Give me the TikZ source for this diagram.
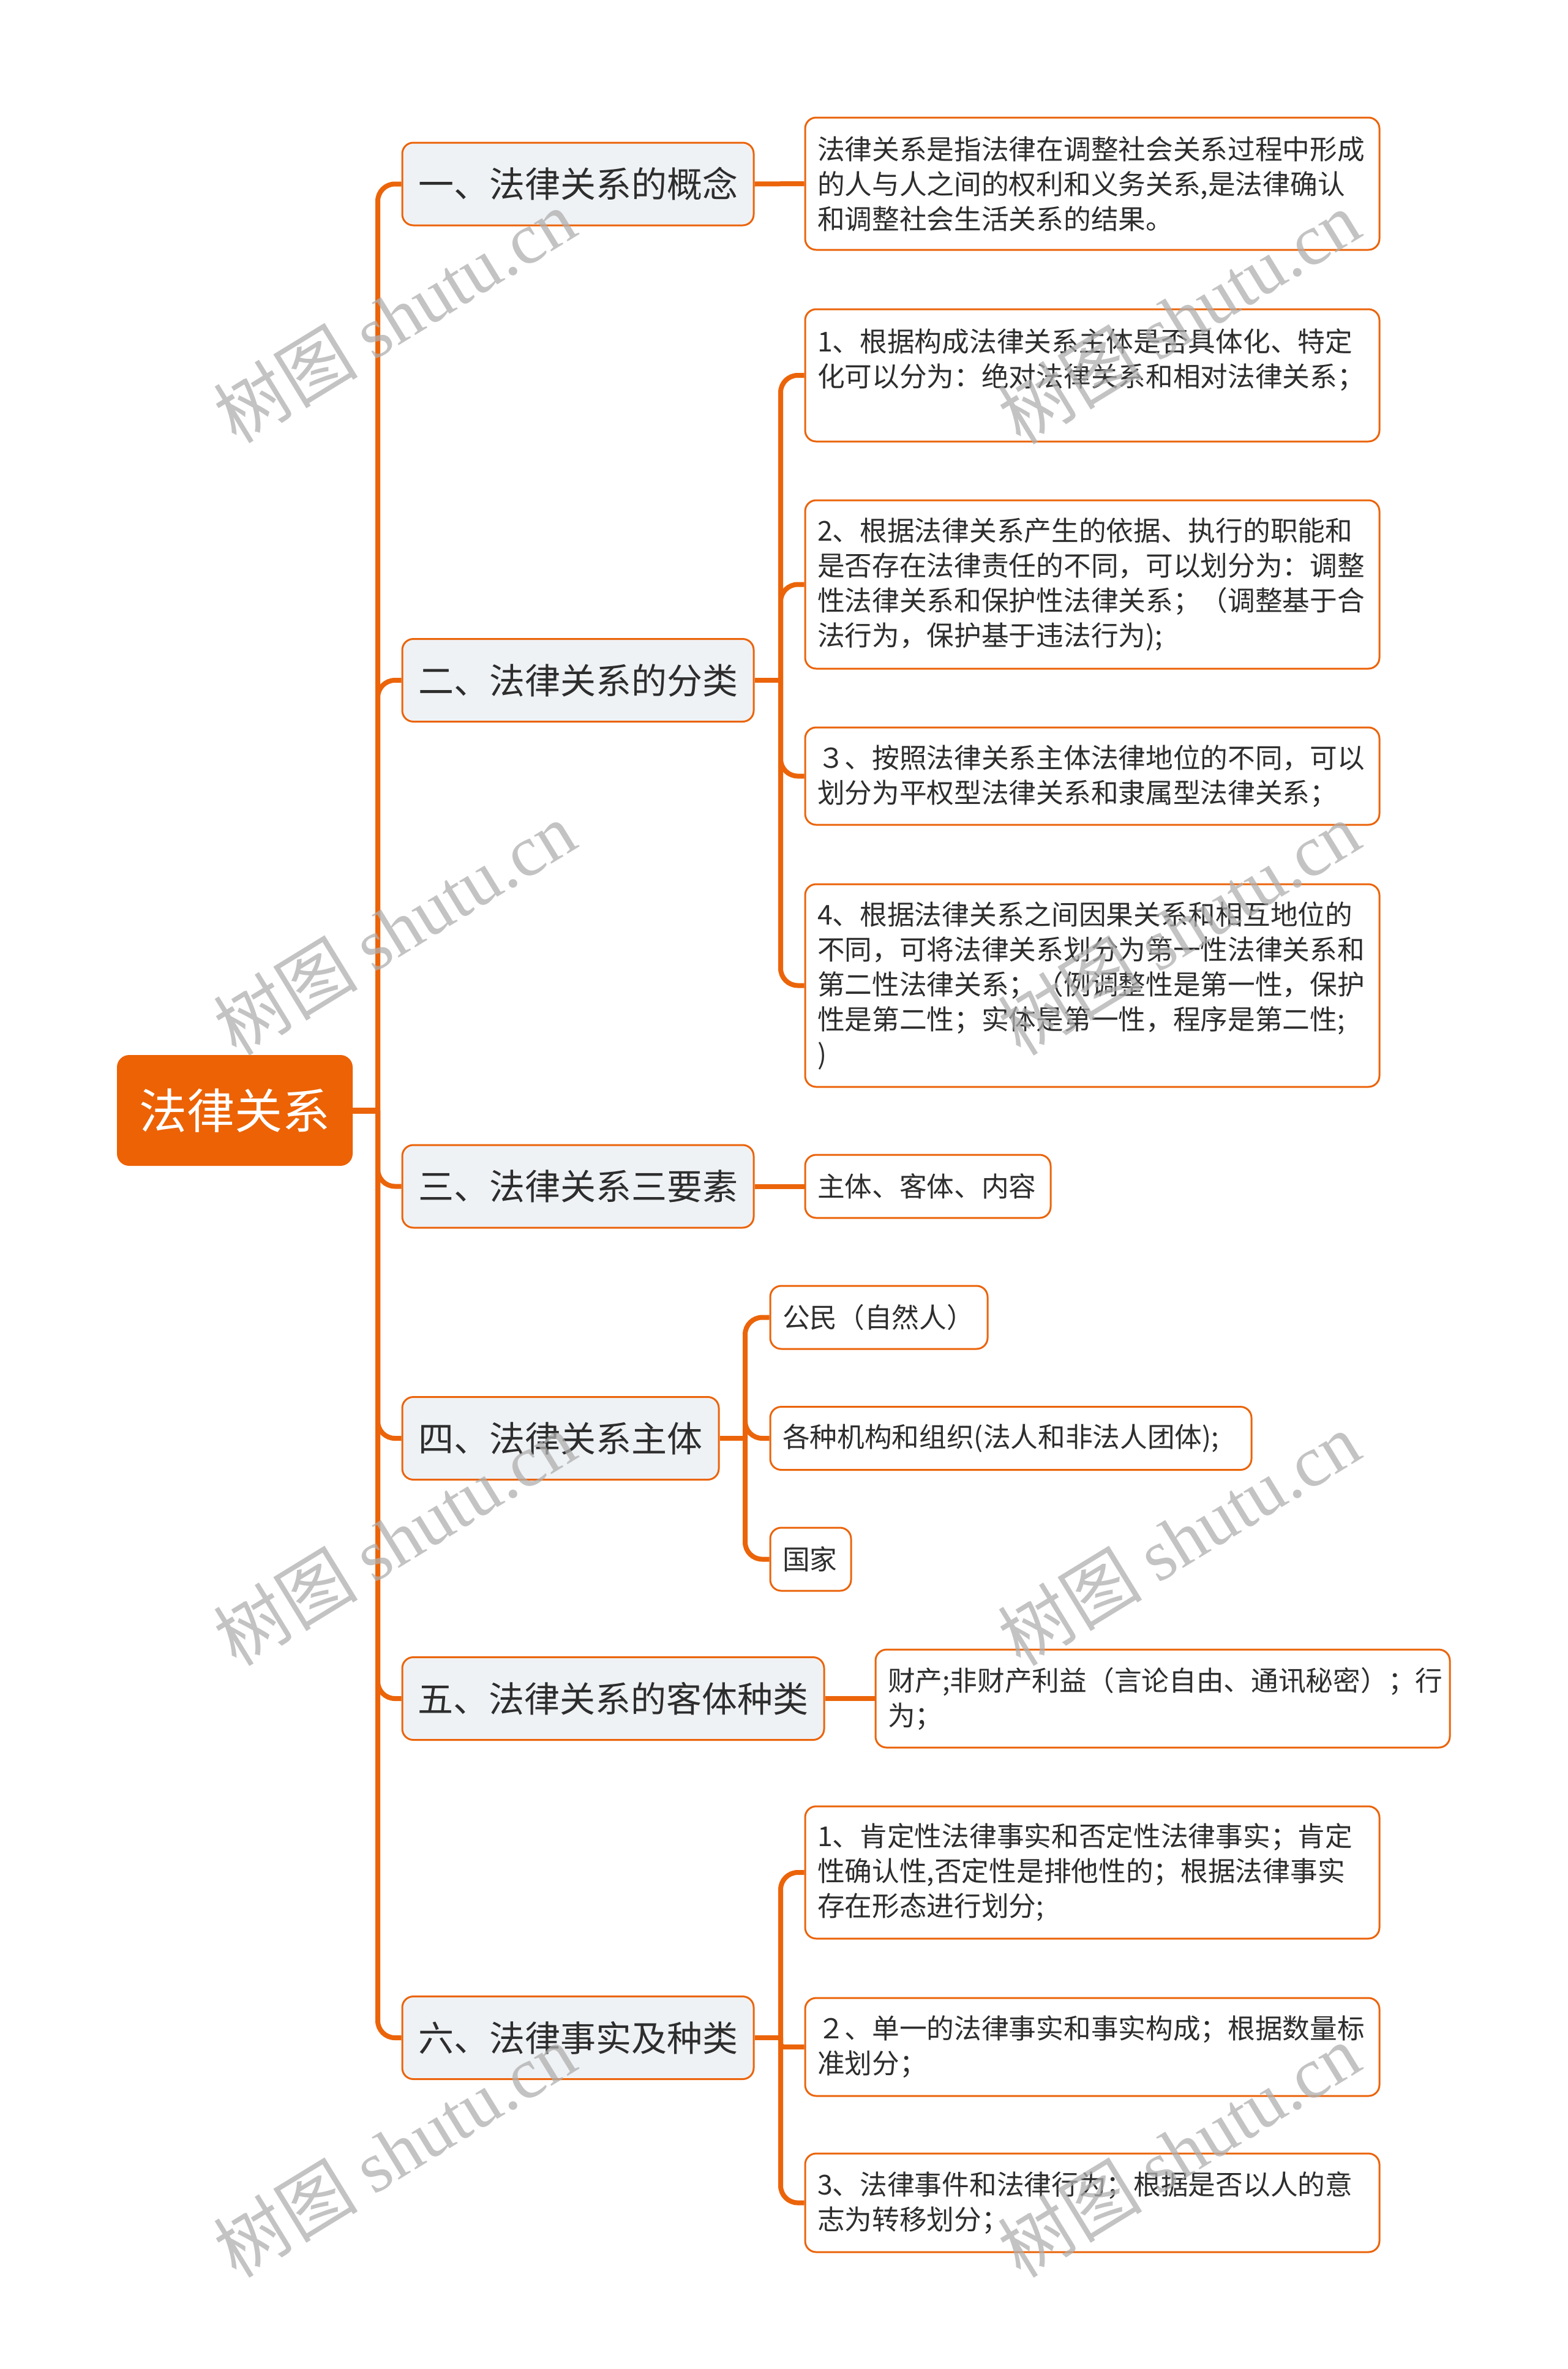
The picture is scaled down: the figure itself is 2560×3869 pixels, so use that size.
\documentclass[tikz,border=0pt]{standalone}
\usepackage{fontspec}
\setmainfont{Noto Sans CJK SC}
\newfontfamily\wmserif{Liberation Serif}
\usetikzlibrary{backgrounds}
\definecolor{orangeC}{RGB}{235,100,10}
\definecolor{rootC}{RGB}{236,98,4}
\definecolor{lonefill}{RGB}{239,242,245}
\definecolor{textC}{RGB}{45,45,45}
\definecolor{wmC}{RGB}{175,175,175}
\tikzset{
  conn/.style={draw=orangeC, line width=8pt, rounded corners=28pt},
  rootbox/.style={rectangle, rounded corners=20pt, fill=rootC, draw=none, text=white,
    font=\fontsize{78}{94}\selectfont, minimum width=385pt, minimum height=181pt, inner sep=0pt},
  lonebox/.style={rectangle, rounded corners=18pt, fill=lonefill, draw=orangeC, line width=3pt,
    text=textC, font=\fontsize{58}{70}\selectfont, minimum height=135pt, inner sep=0pt},
  leafbox/.style={rectangle, rounded corners=18pt, fill=white, draw=orangeC, line width=3pt,
    text=textC, font=\fontsize{44.7}{57}\selectfont, align=left, inner xsep=20pt, inner ysep=0pt},
  wmark/.style={text=wmC, opacity=0.75, rotate=31.5, inner sep=0pt, font=\fontsize{118}{120}\selectfont},
}
\begin{document}
\begin{tikzpicture}[x=1pt,y=-1pt]
\useasboundingbox (0,0) rectangle (2560,3869);
% root
\node[rootbox] (root) at (383.5,1813.5) {法律关系};
% level one
\node[lonebox, minimum width=574pt] (n1) at (944,300.5) {一、法律关系的概念};
\node[lonebox, minimum width=574pt] (n2) at (944,1111) {二、法律关系的分类};
\node[lonebox, minimum width=574pt] (n3) at (944,1937.5) {三、法律关系三要素};
\node[lonebox, minimum width=517pt] (n4) at (915.5,2349) {四、法律关系主体};
\node[lonebox, minimum width=689pt] (n5) at (1001.5,2774) {五、法律关系的客体种类};
\node[lonebox, minimum width=574pt] (n6) at (944,3328) {六、法律事实及种类};
% leaves
\node[leafbox, text width=898pt, minimum height=216pt] (a1) at (1784,300) {法律关系是指法律在调整社会关系过程中形成\\的人与人之间的权利和义务关系,是法律确认\\和调整社会生活关系的结果。};
\node[leafbox, text width=898pt, minimum height=216pt] (b1) at (1784,613) {1、根据构成法律关系主体是否具体化、特定\\化可以分为：绝对法律关系和相对法律关系；\\\mbox{}};
\node[leafbox, text width=898pt, minimum height=275pt] (b2) at (1784,954.5) {2、根据法律关系产生的依据、执行的职能和\\是否存在法律责任的不同，可以划分为：调整\\性法律关系和保护性法律关系；（调整基于合\\法行为，保护基于违法行为);};
\node[leafbox, text width=898pt, minimum height=159pt] (b3) at (1784,1267.5) {３、按照法律关系主体法律地位的不同，可以\\划分为平权型法律关系和隶属型法律关系；};
\node[leafbox, text width=898pt, minimum height=331pt] (b4) at (1784,1609.5) {4、根据法律关系之间因果关系和相互地位的\\不同，可将法律关系划分为第一性法律关系和\\第二性法律关系；（例调整性是第一性，保护\\性是第二性；实体是第一性，程序是第二性;\\)};
\node[leafbox, text width=361pt, minimum height=103pt] (c1) at (1515.5,1937.5) {主体、客体、内容};
\node[leafbox, text width=315pt, minimum height=103pt] (d1) at (1435.5,2151.5) {公民（自然人）};
\node[leafbox, text width=746pt, minimum height=103pt] (d2) at (1651,2349) {各种机构和组织(法人和非法人团体);};
\node[leafbox, text width=92pt, minimum height=103pt] (d3) at (1324,2546.5) {国家};
\node[leafbox, text width=898pt, minimum height=160pt] (e1) at (1899,2774) {财产;非财产利益（言论自由、通讯秘密）；行\\为；};
\node[leafbox, text width=898pt, minimum height=216pt] (f1) at (1784,3058) {1、肯定性法律事实和否定性法律事实；肯定\\性确认性,否定性是排他性的；根据法律事实\\存在形态进行划分;};
\node[leafbox, text width=898pt, minimum height=160pt] (f2) at (1784,3343) {２、单一的法律事实和事实构成；根据数量标\\准划分；};
\node[leafbox, text width=898pt, minimum height=161pt] (f3) at (1784,3597.5) {3、法律事件和法律行为；根据是否以人的意\\志为转移划分；};
% junction points
\coordinate (sp) at (617,1813.5);
\coordinate (s2) at (1275,1111);
\coordinate (s4) at (1217,2349);
\coordinate (s6) at (1275,3328);
% connectors behind boxes
\begin{scope}[on background layer]
\draw[conn, line width=10pt] (root.east) -- (sp);
\foreach \n in {n1,n2,n3,n4,n5,n6} {\draw[conn] (sp) |- (\n.west);}
\draw[conn] (n1.east) -- (a1.west);
\draw[conn] (n3.east) -- (c1.west);
\draw[conn] (n5.east) -- (e1.west);
\draw[conn] (n2.east) -- (s2);
\foreach \c in {b1,b2,b3,b4} {\draw[conn] (s2) |- (\c.west);}
\draw[conn] (n4.east) -- (s4);
\foreach \c in {d1,d2,d3} {\draw[conn] (s4) |- (\c.west);}
\draw[conn] (n6.east) -- (s6);
\draw[conn] (s6) |- (f1.west);
\draw[conn, rounded corners=6pt] (s6) |- (f2.west);
\draw[conn] (s6) |- (f3.west);
\end{scope}
% watermarks
\foreach \wx/\wy [count=\i] in {644/516,644/1516,644/2513,644/3512,1925/518,1925/1516,1925/2513,1925/3512} {
  \node[wmark] (wm\i) at (\wx,\wy) {树图 {\wmserif shutu.cn}};
}
\end{tikzpicture}
\end{document}
